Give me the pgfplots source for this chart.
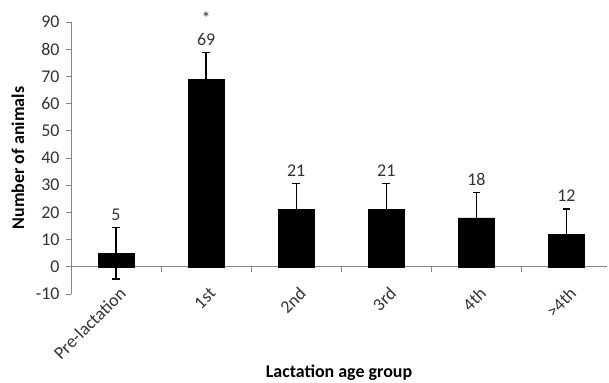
\documentclass[border=0pt]{standalone}
\usepackage{fontspec}
\setmainfont{Carlito}
\usepackage{pgfplots}
\pgfplotsset{compat=1.18}
\definecolor{axgray}{RGB}{134,134,134}
\definecolor{txt}{RGB}{50,50,50}
\newcommand{\fs}{\fontsize{18}{21}\selectfont}
\begin{document}
\begin{tikzpicture}
\useasboundingbox (0,0) rectangle (609bp,383bp);
\begin{axis}[
  at={(71bp,89bp)}, anchor=south west,
  scale only axis, width=536bp, height=272bp,
  xmin=-0.5, xmax=5.45, ymin=-10, ymax=90,
  ytick={-10,0,10,20,30,40,50,60,70,80,90},
  xtick={0,1,2,3,4,5},
  xticklabels={Pre-lactation,1st,2nd,3rd,4th,>4th},
  axis y line*=left, axis x line*=bottom,
  x axis line style={draw=none},
  y axis line style={draw=axgray, line width=0.8bp},
  xtick style={draw=none},
  ytick style={draw=axgray, line width=0.8bp},
  tick align=outside, major tick length=5bp,
  /pgf/number format/assume math mode=true,
  ticklabel style={text=txt, font=\fs},
  yticklabel style={xshift=-3bp},
  xticklabel style={xshift=9bp, yshift=11bp, rotate=45, anchor=east},
  ylabel={\textbf{Number of animals}},
  xlabel={\textbf{Lactation age group}},
  ylabel style={at={(axis description cs:-0.099,0.5)}, anchor=center, text=black, font=\fs},
  xlabel style={at={(axis description cs:0.5,-0.29)}, anchor=center, text=black, font=\fs},
  clip=false,
]
\draw[axgray, line width=0.8bp] (axis cs:-0.5,0) -- (axis cs:5.45,0);
\pgfplotsinvokeforeach{0.5,1.5,2.5,3.5,4.5}{\draw[axgray, line width=0.8bp] (axis cs:#1,0) -- ([yshift=-5bp]axis cs:#1,0);}
\addplot[ybar, bar width=36bp, fill=black, draw=black,
  error bars/.cd, y dir=both, y explicit,
  error bar style={line width=1.3bp, black},
  error mark options={rotate=90, mark size=3.8bp, line width=1.3bp, black}]
  coordinates {(0,5) +- (0,9.5) (1,69) +- (0,9.7) (2,21) +- (0,9.5)
               (3,21) +- (0,9.5) (4,18) +- (0,9.3) (5,12) +- (0,9.3)};
\addplot[draw=none, mark=none, nodes near coords, point meta=explicit symbolic,
  nodes near coords style={anchor=base, inner sep=0pt, yshift=7bp, text=txt, font=\fs}]
  coordinates {(0,14.5)[5] (1,78.7)[69] (2,30.5)[21] (3,30.5)[21] (4,27.3)[18] (5,21.3)[12]};
\addplot[draw=none, mark=none, nodes near coords, point meta=explicit symbolic,
  nodes near coords style={anchor=base, inner sep=0pt, yshift=28bp, text=txt, font=\fs}]
  coordinates {(1,78.7)[*]};
\end{axis}
\end{tikzpicture}
\end{document}
